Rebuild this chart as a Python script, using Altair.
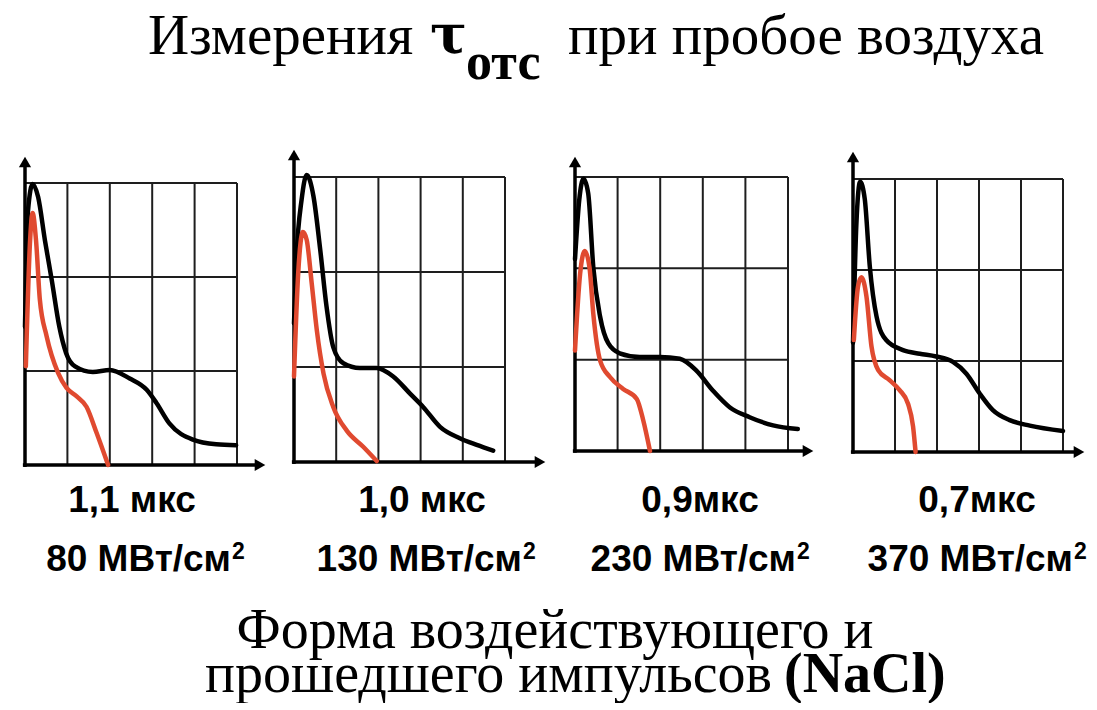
import altair as alt
import pandas as pd

# ---------------- texts ----------------
title_parts = ["Измерения", "τ", "отс", "при пробое воздуха"]
bottom_title_line1 = "Форма воздействующего и"
bottom_title_line2 = "прошедшего импульсов"
bottom_title_bold = "(NaCl)"
durations = ["1,1 мкс", "1,0 мкс", "0,9мкс", "0,7мкс"]
intensities = ["80 МВт/см", "130 МВт/см", "230 МВт/см", "370 МВт/см"]
intensity_power = "2"

# ---------------- grid (in oscilloscope divisions) ----------------
grid_cols = [1, 2, 3, 4, 5]
grid_rows = [1, 2, 3]

# ---------------- traces (x, y in grid divisions) ----------------
# Panel 1: 80 MW/cm2
black_x_1 = [0.0, 0.07, 0.18, 0.31, 0.47, 0.63, 0.81, 0.97, 1.18, 1.60, 2.0, 2.47, 2.87, 3.10, 3.41, 3.96, 4.51, 4.98]
black_y_1 = [1.47, 2.70, 2.99, 2.85, 2.39, 1.97, 1.47, 1.19, 1.05, 0.99, 1.01, 0.92, 0.80, 0.66, 0.44, 0.27, 0.22, 0.21]
red_x_1 = [0.02, 0.12, 0.18, 0.26, 0.35, 0.51, 0.78, 0.98, 1.22, 1.45, 1.69, 1.96]
red_y_1 = [1.05, 2.39, 2.68, 2.39, 1.76, 1.37, 0.98, 0.82, 0.73, 0.62, 0.34, 0.0]

# Panel 2: 130 MW/cm2
black_x_2 = [0.0, 0.06, 0.18, 0.30, 0.46, 0.62, 0.77, 0.93, 1.17, 1.56, 1.96, 2.35, 2.75, 3.06, 3.46, 3.93, 4.33, 4.72]
black_y_2 = [1.46, 2.16, 2.76, 3.02, 2.80, 2.24, 1.64, 1.21, 1.04, 0.99, 0.99, 0.90, 0.72, 0.58, 0.37, 0.25, 0.18, 0.12]
red_x_2 = [0.0, 0.10, 0.21, 0.30, 0.42, 0.54, 0.70, 0.93, 1.25, 1.64, 1.96]
red_y_2 = [0.90, 1.99, 2.42, 2.34, 1.88, 1.39, 0.93, 0.58, 0.33, 0.16, 0.01]

# Panel 3: 230 MW/cm2
black_x_3 = [0.0, 0.10, 0.20, 0.31, 0.43, 0.59, 0.78, 1.05, 1.52, 1.99, 2.46, 2.85, 3.24, 3.63, 4.10, 4.65, 5.23]
black_y_3 = [2.10, 2.75, 2.98, 2.82, 2.01, 1.47, 1.18, 1.07, 1.03, 1.03, 1.01, 0.88, 0.66, 0.48, 0.37, 0.28, 0.24]
red_x_3 = [0.0, 0.12, 0.23, 0.34, 0.43, 0.59, 0.82, 1.13, 1.45, 1.60, 1.76]
red_y_3 = [1.10, 1.94, 2.19, 2.01, 1.50, 0.99, 0.81, 0.68, 0.57, 0.34, 0.0]

# Panel 4: 370 MW/cm2
black_x_4 = [0.0, 0.08, 0.17, 0.28, 0.40, 0.56, 0.79, 1.19, 1.59, 1.98, 2.38, 2.70, 3.02, 3.33, 3.73, 4.21, 5.0]
black_y_4 = [1.20, 2.50, 2.97, 2.78, 2.04, 1.49, 1.23, 1.12, 1.08, 1.05, 0.99, 0.86, 0.64, 0.46, 0.35, 0.29, 0.23]
red_x_4 = [0.02, 0.12, 0.20, 0.32, 0.44, 0.60, 0.87, 1.11, 1.31, 1.43, 1.49]
red_y_4 = [1.23, 1.82, 1.92, 1.71, 1.16, 0.90, 0.79, 0.68, 0.53, 0.28, 0.0]

black_x = [black_x_1, black_x_2, black_x_3, black_x_4]
black_y = [black_y_1, black_y_2, black_y_3, black_y_4]
red_x = [red_x_1, red_x_2, red_x_3, red_x_4]
red_y = [red_y_1, red_y_2, red_y_3, red_y_4]

# ---------------- layout (page pixels) ----------------
PAGE_MARGIN = 8
TITLE_H = 137
PLOT_TOP = PAGE_MARGIN + TITLE_H       # 145
PLOT_H = 325
PLOT_BOTTOM = PLOT_TOP + PLOT_H        # 470
BOTTOM_H = 231
SPACING = 8
# grid left, right, top, bottom, x-arrow tip, y-arrow tip
geom = [
    (25, 237, 183, 465, 267, 155),
    (294, 505, 177, 462, 547, 148),
    (575, 788, 177, 451, 815, 155),
    (853, 1063, 179, 452, 1086, 150),
]
panel_lefts = [8, 277, 557, 825]
panel_widths = [261, 272, 260, 264]

BLACK = "#000000"
RED = "#e04a30"
GRID = "#1e1e1e"


def panel(i):
    L, R, T, B, xt, yt = geom[i]
    left, W = panel_lefts[i], panel_widths[i]
    ppx = (R - L) / 5.0
    ppy = (B - T) / 3.0
    xs = alt.Scale(domain=[-(L - left) / ppx, (left + W - L) / ppx], nice=False, zero=False)
    ys = alt.Scale(domain=[-(PLOT_BOTTOM - B) / ppy, (B - PLOT_TOP) / ppy], nice=False, zero=False)

    vgrid = alt.Chart(pd.DataFrame({"x": grid_cols, "y0": [0] * len(grid_cols), "y1": [3] * len(grid_cols)})).mark_rule(
        color=GRID, strokeWidth=2
    ).encode(
        x=alt.X("x:Q", scale=xs, axis=None),
        y=alt.Y("y0:Q", scale=ys, axis=None),
        y2="y1:Q",
    )
    hgrid = alt.Chart(pd.DataFrame({"y": grid_rows, "x0": [0] * len(grid_rows), "x1": [5] * len(grid_rows)})).mark_rule(
        color=GRID, strokeWidth=2
    ).encode(
        y=alt.Y("y:Q", scale=ys, axis=None),
        x=alt.X("x0:Q", scale=xs, axis=None),
        x2="x1:Q",
    )
    x_end = (xt - 10 - L) / ppx
    y_end = (B - yt - 10) / ppy
    axes = alt.Chart(pd.DataFrame({
        "x0": [-0.05, 0.0], "x1": [x_end, 0.0], "y0": [0.0, -0.02], "y1": [0.0, y_end]
    })).mark_rule(color=BLACK, strokeWidth=3.5).encode(
        x=alt.X("x0:Q", scale=xs, axis=None),
        x2="x1:Q",
        y=alt.Y("y0:Q", scale=ys, axis=None),
        y2="y1:Q",
    )
    arrows = alt.Chart(pd.DataFrame({
        "x": [(xt - 7 - L) / ppx, 0.0],
        "y": [0.0, (B - yt - 7) / ppy],
        "shape": ["triangle-right", "triangle-up"],
    })).mark_point(filled=True, size=150, color=BLACK, opacity=1).encode(
        x=alt.X("x:Q", scale=xs, axis=None),
        y=alt.Y("y:Q", scale=ys, axis=None),
        shape=alt.Shape("shape:N", scale=None, legend=None),
    )
    black = alt.Chart(pd.DataFrame({"x": black_x[i], "y": black_y[i]})).mark_line(
        color=BLACK, strokeWidth=4.5, interpolate="monotone", strokeCap="round", strokeJoin="round"
    ).encode(
        x=alt.X("x:Q", scale=xs, axis=None),
        y=alt.Y("y:Q", scale=ys, axis=None),
        order=alt.Order("x:Q"),
    )
    red = alt.Chart(pd.DataFrame({"x": red_x[i], "y": red_y[i]})).mark_line(
        color=RED, strokeWidth=4.5, interpolate="monotone", strokeCap="round", strokeJoin="round"
    ).encode(
        x=alt.X("x:Q", scale=xs, axis=None),
        y=alt.Y("y:Q", scale=ys, axis=None),
        order=alt.Order("x:Q"),
    )
    return alt.layer(vgrid, hgrid, axes, arrows, black, red).properties(width=W, height=PLOT_H)


panels = alt.hconcat(*[panel(i) for i in range(4)], spacing=SPACING)

one = pd.DataFrame({"k": [0]})
SERIF = "Liberation Serif"
SANS = "Liberation Sans"


def txt(text, x, y, size, weight="normal", align="left", font=SERIF, baseline="alphabetic"):
    return alt.Chart(one).mark_text(
        x=x, y=y, align=align, baseline=baseline, font=font, fontSize=size, fontWeight=weight, color="black"
    ).encode(text=alt.value(text))


# ---------------- top title (positions in page px, converted to chart px) ----------------
T0 = PAGE_MARGIN
title_chart = alt.layer(
    txt(title_parts[0], 148 - T0, 54 - T0, 57),
    txt(title_parts[1], 430 - T0, 53 - T0, 55, "bold", font="DejaVu Serif"),
    txt(title_parts[2], 466 - T0, 79 - T0, 52, "bold"),
    txt(title_parts[3], 568 - T0, 54 - T0, 57),
).properties(width=1081, height=TITLE_H)

# ---------------- labels and bottom title ----------------
line1_centers = [132, 422, 700, 977]
line2_ends = [231, 522, 796, 1073]
B0 = PLOT_BOTTOM
bottom_layers = []
for i in range(4):
    bottom_layers.append(txt(durations[i], line1_centers[i] - T0, 510 - B0, 37, "bold",
                             align="center", font=SANS))
    bottom_layers.append(txt(intensities[i], line2_ends[i] - T0, 569 - B0, 37, "bold",
                             align="right", font=SANS))
    bottom_layers.append(txt(intensity_power, line2_ends[i] + 1 - T0, 557 - B0, 23, "bold",
                             align="left", font=SANS))
bottom_layers.append(txt(bottom_title_line1, 555 - T0, 646 - B0, 56, align="center"))
bottom_layers.append(txt(bottom_title_line2, 772 - T0, 690 - B0, 56, align="right"))
bottom_layers.append(txt(bottom_title_bold, 784 - T0, 690 - B0, 56, "bold", align="left"))
bottom_chart = alt.layer(*bottom_layers).properties(width=1081, height=BOTTOM_H)

chart = alt.vconcat(title_chart, panels, bottom_chart, spacing=0).properties(
    padding=0, background="white"
).configure_view(stroke=None)

chart.save("out.html", embed_options={"renderer": "svg", "actions": False})
